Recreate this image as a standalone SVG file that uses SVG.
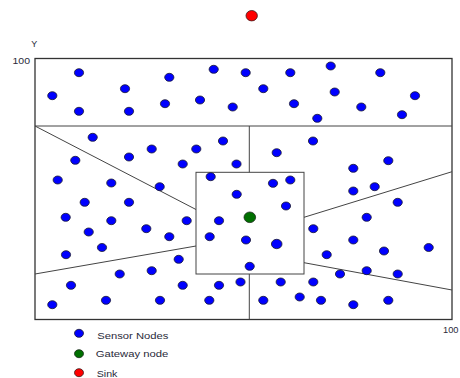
<svg xmlns="http://www.w3.org/2000/svg" width="460" height="378" viewBox="0 0 460 378">
<style>
.s{fill:#0000ff;stroke:#1a1a2e;stroke-width:0.8}
.g{fill:#007000;stroke:#1a2a1a;stroke-width:0.8}
.k{fill:#ff0000;stroke:#3a1a1a;stroke-width:0.8}
.ln{stroke:#444;stroke-width:1;fill:none}
.fr{stroke:#333;stroke-width:1.3;fill:none}
.t{font-family:"Liberation Sans",Arial,sans-serif;font-size:9px;fill:#2a2a3a}
</style>
<rect width="460" height="378" fill="#fff"/>
<g id="regions">
<rect class="fr" x="35" y="58.5" width="417" height="261"/>
<line class="ln" x1="35" y1="126" x2="452" y2="126"/>
<line class="ln" x1="249.3" y1="126" x2="249.3" y2="172.3"/>
<line class="ln" x1="249.3" y1="274" x2="249.3" y2="319.5"/>
<rect class="ln" x="196" y="172.3" width="108" height="101.7"/>
<line class="ln" x1="35" y1="126" x2="196" y2="209.5"/>
<line class="ln" x1="35" y1="274" x2="196" y2="246"/>
<line class="ln" x1="304" y1="217.3" x2="452" y2="171.7"/>
<line class="ln" x1="304" y1="262.7" x2="452" y2="290"/>
</g>
<g id="axis-labels">
<text class="t" x="34.3" y="46.5" text-anchor="middle">Y</text>
<text class="t" x="12.5" y="64.3" textLength="17.5" lengthAdjust="spacingAndGlyphs">100</text>
<text class="t" x="443" y="333.3" textLength="15.5" lengthAdjust="spacingAndGlyphs">100</text>
</g>
<g id="sink"><ellipse class="k" cx="251.7" cy="15.7" rx="5.7" ry="5.2"/></g>
<g id="gateway"><ellipse class="g" cx="249.8" cy="217.3" rx="5.8" ry="5.3"/></g>
<g id="sensors">
<ellipse class="s" cx="79" cy="72.7" rx="4.6" ry="4"/>
<ellipse class="s" cx="52.3" cy="95.7" rx="4.6" ry="4"/>
<ellipse class="s" cx="79" cy="111.3" rx="4.6" ry="4"/>
<ellipse class="s" cx="125" cy="88.7" rx="4.6" ry="4"/>
<ellipse class="s" cx="129" cy="111.3" rx="4.6" ry="4"/>
<ellipse class="s" cx="169.3" cy="77.3" rx="4.6" ry="4"/>
<ellipse class="s" cx="165" cy="103.7" rx="4.6" ry="4"/>
<ellipse class="s" cx="213.7" cy="69.3" rx="4.6" ry="4"/>
<ellipse class="s" cx="200" cy="100" rx="4.6" ry="4"/>
<ellipse class="s" cx="232.7" cy="107" rx="4.6" ry="4"/>
<ellipse class="s" cx="245.7" cy="72.7" rx="4.6" ry="4"/>
<ellipse class="s" cx="263.3" cy="88.7" rx="4.6" ry="4"/>
<ellipse class="s" cx="290.3" cy="72.7" rx="4.6" ry="4"/>
<ellipse class="s" cx="294" cy="103.7" rx="4.6" ry="4"/>
<ellipse class="s" cx="330.7" cy="66" rx="4.6" ry="4"/>
<ellipse class="s" cx="334.7" cy="92" rx="4.6" ry="4"/>
<ellipse class="s" cx="317.3" cy="118.3" rx="4.6" ry="4"/>
<ellipse class="s" cx="380.3" cy="72.7" rx="4.6" ry="4"/>
<ellipse class="s" cx="361.3" cy="107" rx="4.6" ry="4"/>
<ellipse class="s" cx="415" cy="95.7" rx="4.6" ry="4"/>
<ellipse class="s" cx="402" cy="114.7" rx="4.6" ry="4"/>
<ellipse class="s" cx="92.7" cy="137.3" rx="4.6" ry="4"/>
<ellipse class="s" cx="75.3" cy="160.3" rx="4.6" ry="4"/>
<ellipse class="s" cx="57.7" cy="180" rx="4.6" ry="4"/>
<ellipse class="s" cx="129" cy="157" rx="4.6" ry="4"/>
<ellipse class="s" cx="151.7" cy="149" rx="4.6" ry="4"/>
<ellipse class="s" cx="111.3" cy="183" rx="4.6" ry="4"/>
<ellipse class="s" cx="182.7" cy="164" rx="4.6" ry="4"/>
<ellipse class="s" cx="196.3" cy="149" rx="4.6" ry="4"/>
<ellipse class="s" cx="223" cy="141" rx="4.6" ry="4"/>
<ellipse class="s" cx="236.5" cy="164" rx="4.6" ry="4"/>
<ellipse class="s" cx="159.7" cy="186.7" rx="4.6" ry="4"/>
<ellipse class="s" cx="84.7" cy="202.3" rx="4.6" ry="4"/>
<ellipse class="s" cx="129" cy="202.3" rx="4.6" ry="4"/>
<ellipse class="s" cx="65.7" cy="217.3" rx="4.6" ry="4"/>
<ellipse class="s" cx="111.3" cy="220.7" rx="4.6" ry="4"/>
<ellipse class="s" cx="186.7" cy="220.7" rx="4.6" ry="4"/>
<ellipse class="s" cx="88.7" cy="232" rx="4.6" ry="4"/>
<ellipse class="s" cx="146.3" cy="228.7" rx="4.6" ry="4"/>
<ellipse class="s" cx="169.3" cy="236.7" rx="4.6" ry="4"/>
<ellipse class="s" cx="102" cy="247.5" rx="4.6" ry="4"/>
<ellipse class="s" cx="210.7" cy="176.7" rx="4.6" ry="4"/>
<ellipse class="s" cx="273" cy="183.3" rx="4.6" ry="4"/>
<ellipse class="s" cx="290.3" cy="180" rx="4.6" ry="4"/>
<ellipse class="s" cx="236.7" cy="194.3" rx="4.6" ry="4"/>
<ellipse class="s" cx="286" cy="206" rx="4.6" ry="4"/>
<ellipse class="s" cx="219" cy="220.7" rx="4.6" ry="4"/>
<ellipse class="s" cx="209.7" cy="236.7" rx="4.6" ry="4"/>
<ellipse class="s" cx="246" cy="240" rx="4.6" ry="4"/>
<ellipse class="s" cx="276.7" cy="244" rx="5.3" ry="4.7"/>
<ellipse class="s" cx="249.7" cy="266.3" rx="4.6" ry="4"/>
<ellipse class="s" cx="313" cy="141" rx="4.6" ry="4"/>
<ellipse class="s" cx="276.7" cy="152.7" rx="4.6" ry="4"/>
<ellipse class="s" cx="353.3" cy="168.3" rx="4.6" ry="4"/>
<ellipse class="s" cx="388.3" cy="160.7" rx="4.6" ry="4"/>
<ellipse class="s" cx="353.3" cy="191" rx="4.6" ry="4"/>
<ellipse class="s" cx="374.7" cy="186.7" rx="4.6" ry="4"/>
<ellipse class="s" cx="397.7" cy="202.3" rx="4.6" ry="4"/>
<ellipse class="s" cx="366.7" cy="217.3" rx="4.6" ry="4"/>
<ellipse class="s" cx="313.3" cy="228.7" rx="4.6" ry="4"/>
<ellipse class="s" cx="353.3" cy="240" rx="4.6" ry="4"/>
<ellipse class="s" cx="384" cy="251" rx="4.6" ry="4"/>
<ellipse class="s" cx="428.7" cy="247.5" rx="4.6" ry="4"/>
<ellipse class="s" cx="66" cy="254.7" rx="4.6" ry="4"/>
<ellipse class="s" cx="178.7" cy="259.3" rx="4.6" ry="4"/>
<ellipse class="s" cx="151.7" cy="270.7" rx="4.6" ry="4"/>
<ellipse class="s" cx="119.7" cy="274" rx="4.6" ry="4"/>
<ellipse class="s" cx="71" cy="285.3" rx="4.6" ry="4"/>
<ellipse class="s" cx="182.7" cy="285.3" rx="4.6" ry="4"/>
<ellipse class="s" cx="219" cy="285.3" rx="4.6" ry="4"/>
<ellipse class="s" cx="240.5" cy="282" rx="4.6" ry="4"/>
<ellipse class="s" cx="52.3" cy="304.7" rx="4.6" ry="4"/>
<ellipse class="s" cx="106" cy="300.3" rx="4.6" ry="4"/>
<ellipse class="s" cx="160" cy="300.3" rx="4.6" ry="4"/>
<ellipse class="s" cx="209.3" cy="300.3" rx="4.6" ry="4"/>
<ellipse class="s" cx="326.7" cy="254.7" rx="4.6" ry="4"/>
<ellipse class="s" cx="340" cy="274" rx="4.6" ry="4"/>
<ellipse class="s" cx="366.7" cy="270.7" rx="4.6" ry="4"/>
<ellipse class="s" cx="397.7" cy="274" rx="4.6" ry="4"/>
<ellipse class="s" cx="280.7" cy="282" rx="4.6" ry="4"/>
<ellipse class="s" cx="313.3" cy="282" rx="4.6" ry="4"/>
<ellipse class="s" cx="263.3" cy="300.3" rx="4.6" ry="4"/>
<ellipse class="s" cx="299.7" cy="297" rx="4.6" ry="4"/>
<ellipse class="s" cx="321" cy="300.3" rx="4.6" ry="4"/>
<ellipse class="s" cx="353.3" cy="304.7" rx="4.6" ry="4"/>
<ellipse class="s" cx="388.3" cy="300.3" rx="4.6" ry="4"/>
</g>
<g id="legend">
<ellipse class="s" cx="79" cy="333.3" rx="4.5" ry="4"/>
<text class="t" x="97.3" y="338.8" textLength="71" lengthAdjust="spacingAndGlyphs">Sensor Nodes</text>
<ellipse class="g" cx="79" cy="353.7" rx="4.5" ry="4"/>
<text class="t" x="95.7" y="357.3" textLength="72.6" lengthAdjust="spacingAndGlyphs">Gateway node</text>
<ellipse class="k" cx="79" cy="372.7" rx="4.5" ry="4"/>
<text class="t" x="96.7" y="376.8" textLength="20.7" lengthAdjust="spacingAndGlyphs">Sink</text>
</g>
</svg>
